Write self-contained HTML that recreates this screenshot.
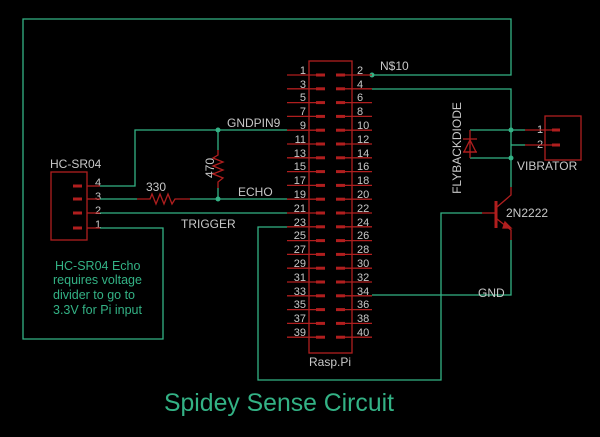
<!DOCTYPE html>
<html><head><meta charset="utf-8"><style>
html,body{margin:0;padding:0;background:#000;}
svg{display:block}
text{font-family:"Liberation Sans",sans-serif;}
</style></head><body>
<svg width="600" height="437" viewBox="0 0 600 437" xmlns="http://www.w3.org/2000/svg">
<rect width="600" height="437" fill="#000"/>
<defs>
<g id="row">
<line x1="287" y1="0" x2="323" y2="0" stroke="#b01e1e" stroke-width="1.3"/>
<line x1="316" y1="0" x2="325" y2="0" stroke="#b01e1e" stroke-width="3"/>
<line x1="339" y1="0" x2="372" y2="0" stroke="#b01e1e" stroke-width="1.3"/>
<line x1="336" y1="0" x2="345" y2="0" stroke="#b01e1e" stroke-width="3"/>
</g>
</defs>
<g stroke="#33b285" stroke-width="1.3" fill="none">
<polyline points="372,75 511,75 511,19 23,19 23,339 163,339 163,228 100,228"/>
<polyline points="372,89 511,89 511,187"/>
<polyline points="470,130 525,130"/>
<polyline points="470,158 511,158"/>
<polyline points="511,145 525,145"/>
<polyline points="287,130 135,130 135,186 100,186"/>
<line x1="218" y1="130" x2="218" y2="150"/>
<line x1="218" y1="188" x2="218" y2="199"/>
<polyline points="100,199 137,199"/>
<polyline points="190,199 287,199"/>
<polyline points="100,213 287,213"/>
<polyline points="287,227 258,227 258,380 441,380 441,213 482,213"/>
<polyline points="511,240 511,295 372,295"/>
</g>
<g fill="#33b285"><circle cx="372" cy="75" r="2.5"/><circle cx="218" cy="130" r="2.5"/><circle cx="218" cy="199" r="2.5"/><circle cx="511" cy="130" r="2.5"/><circle cx="511" cy="158" r="2.5"/></g>
<rect x="309" y="61" width="43" height="292" fill="none" stroke="#b01e1e" stroke-width="1.3"/>
<use href="#row" y="75"/><use href="#row" y="88.8"/><use href="#row" y="102.6"/><use href="#row" y="116.4"/><use href="#row" y="130.2"/><use href="#row" y="144"/><use href="#row" y="157.8"/><use href="#row" y="171.6"/><use href="#row" y="185.4"/><use href="#row" y="199.2"/><use href="#row" y="213"/><use href="#row" y="226.8"/><use href="#row" y="240.6"/><use href="#row" y="254.4"/><use href="#row" y="268.2"/><use href="#row" y="282"/><use href="#row" y="295.8"/><use href="#row" y="309.6"/><use href="#row" y="323.4"/><use href="#row" y="337.2"/>
<g fill="#c8c8c8" font-size="11">
<g text-anchor="end">
<text x="306" y="74">1</text><text x="306" y="88">3</text><text x="306" y="101">5</text><text x="306" y="115">7</text><text x="306" y="129">9</text><text x="306" y="143">11</text><text x="306" y="157">13</text><text x="306" y="170">15</text><text x="306" y="184">17</text><text x="306" y="198">19</text><text x="306" y="212">21</text><text x="306" y="226">23</text><text x="306" y="239">25</text><text x="306" y="253">27</text><text x="306" y="267">29</text><text x="306" y="281">31</text><text x="306" y="295">33</text><text x="306" y="308">35</text><text x="306" y="322">37</text><text x="306" y="336">39</text>
</g>
<text x="357" y="74">2</text><text x="357" y="88">4</text><text x="357" y="101">6</text><text x="357" y="115">8</text><text x="357" y="129">10</text><text x="357" y="143">12</text><text x="357" y="157">14</text><text x="357" y="170">16</text><text x="357" y="184">18</text><text x="357" y="198">20</text><text x="357" y="212">22</text><text x="357" y="226">24</text><text x="357" y="239">26</text><text x="357" y="253">28</text><text x="357" y="267">30</text><text x="357" y="281">32</text><text x="357" y="295">34</text><text x="357" y="308">36</text><text x="357" y="322">38</text><text x="357" y="336">40</text>
<text x="309" y="366" font-size="12">Rasp.Pi</text>
<text x="380" y="70" font-size="12">N$10</text>
<text x="227" y="127" font-size="12">GNDPIN9</text>
<text x="238" y="196" font-size="12">ECHO</text>
<text x="181" y="228" font-size="12">TRIGGER</text>
<text x="478" y="297" font-size="12">GND</text>
<text x="506" y="217" font-size="12">2N2222</text>
<text x="517" y="170" font-size="12">VIBRATOR</text>
<text x="50" y="168" font-size="12">HC-SR04</text>
<text x="146" y="191" font-size="12">330</text>
<text x="214" y="168" font-size="12" transform="rotate(-90 214 168)" text-anchor="middle">470</text>
<text x="461" y="148" font-size="12" transform="rotate(-90 461 148)" text-anchor="middle">FLYBACKDIODE</text>
<text x="95" y="186" font-size="11">4</text><text x="95" y="200" font-size="11">3</text><text x="95" y="214" font-size="11">2</text><text x="95" y="228" font-size="11">1</text>
<text x="537" y="133" font-size="11">1</text><text x="537" y="148" font-size="11">2</text>
</g>
<g stroke="#b01e1e" stroke-width="1.3" fill="none">
<rect x="51" y="172" width="36" height="68"/>
<line x1="87" y1="186" x2="100" y2="186"/><line x1="87" y1="199" x2="100" y2="199"/><line x1="87" y1="213" x2="100" y2="213"/><line x1="87" y1="228" x2="100" y2="228"/>
<g stroke-width="3"><line x1="73" y1="186" x2="82" y2="186"/><line x1="73" y1="199" x2="82" y2="199"/><line x1="73" y1="213" x2="82" y2="213"/><line x1="73" y1="228" x2="82" y2="228"/></g>
<polyline points="137,199 150,199 152,194 156,204 160,194 164,204 168,194 172,204 175,199 190,199"/>
<polyline points="218,150 218,155 213,158 223,162 213,166 223,170 213,174 223,178 218,182 218,188"/>
<rect x="545" y="116" width="36" height="44"/>
<line x1="525" y1="130" x2="555" y2="130"/><line x1="525" y1="145" x2="555" y2="145"/>
<g stroke-width="3"><line x1="552" y1="130" x2="560" y2="130"/><line x1="552" y1="145" x2="560" y2="145"/></g>
<line x1="470" y1="130" x2="470" y2="158"/>
<polygon points="464,152 476,152 470,140"/>
<line x1="463" y1="139" x2="477" y2="139"/>
<line x1="463" y1="152" x2="477" y2="152"/>
<line x1="482" y1="213" x2="495" y2="213"/>
<line x1="496" y1="201" x2="496" y2="228" stroke-width="3"/>
<polyline points="511,187 511,195 497,207"/>
<polyline points="497,219 511,230 511,240"/>
<polygon points="505,222 511,228 503,228" fill="#b01e1e"/>
</g>
<g fill="#33b285" font-size="12.5">
<text x="55" y="270">HC-SR04 Echo</text>
<text x="53" y="284">requires voltage</text>
<text x="53" y="299">divider to go to</text>
<text x="53" y="314">3.3V for Pi input</text>
</g>
<text x="164" y="411" fill="#33b285" font-size="25" font-family="DejaVu Sans,sans-serif" textLength="230" lengthAdjust="spacingAndGlyphs">Spidey Sense Circuit</text>
</svg>
</body></html>
